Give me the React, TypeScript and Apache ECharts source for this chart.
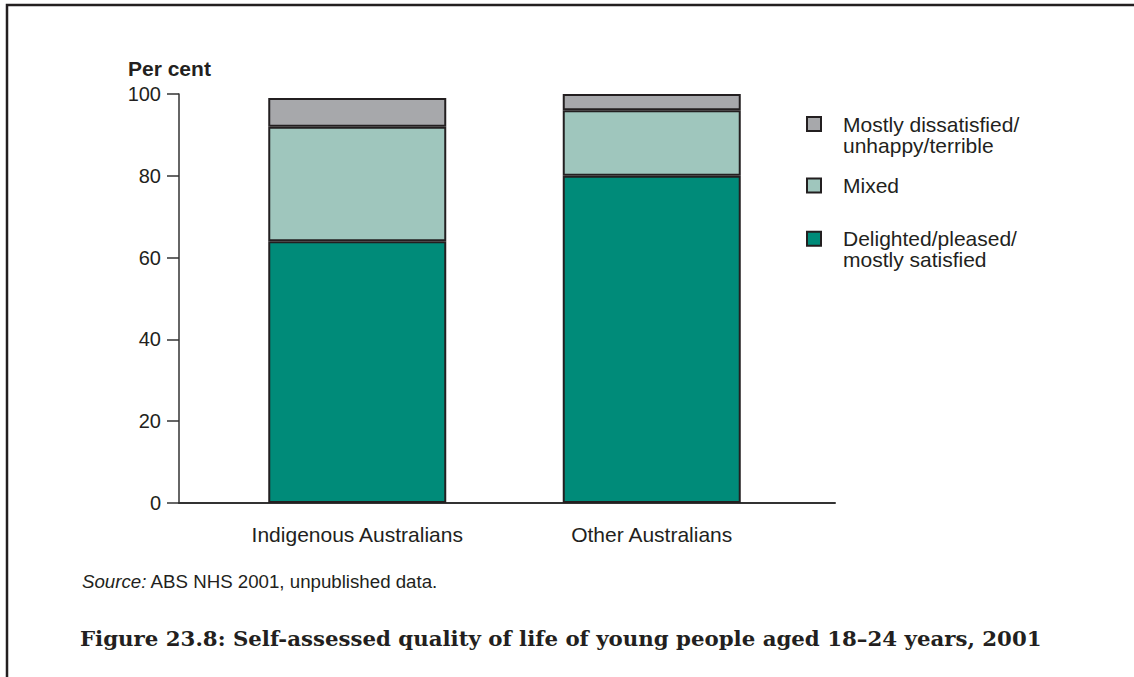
import React, { useEffect, useRef } from "react";
import * as echarts from "echarts";

const categories = ["Indigenous Australians", "Other Australians"];
const delighted = [64, 80];
const mixed = [28, 16];
const dissatisfied = [7, 4];
const yTicks = { min: 0, max: 100, interval: 20 };
const seriesNames = ["Delighted/pleased/\nmostly satisfied", "Mixed", "Mostly dissatisfied/\nunhappy/terrible"];
const seriesColors = ["#008b79", "#9fc6bd", "#a7a8ab"];

const INK = "#231f20";
const SANS = "'Liberation Sans', Arial, Helvetica, sans-serif";

export default function App() {
  const ref = useRef<HTMLDivElement>(null);
  useEffect(() => {
    const chart = echarts.init(ref.current!, null, { renderer: "svg" });
    const values = [delighted, mixed, dissatisfied];
    const legendBase = {
      orient: "vertical",
      left: 806,
      padding: 0,
      icon: "rect",
      itemWidth: 14,
      itemHeight: 14,
      itemStyle: { borderColor: INK, borderWidth: 2 },
      selectedMode: false,
      textStyle: {
        color: INK,
        fontFamily: SANS,
        fontSize: 21,
        lineHeight: 21,
        padding: [0, 0, 0, 17],
      },
    };
    // two-line entries: a leading blank line puts the first text line level with the icon
    const twoLineFormatter = (name: string) => "\n" + name;
    chart.setOption({
      animation: false,
      backgroundColor: "#ffffff",
      textStyle: { fontFamily: SANS, color: INK },
      grid: [
        { left: 179, right: 299, top: 94, bottom: 174, containLabel: false },
        { left: 210, right: 335, top: 94, bottom: 174, containLabel: false },
      ],
      xAxis: [
        {
          gridIndex: 0,
          type: "category",
          data: categories,
          axisLine: { show: true, lineStyle: { color: "#333", width: 2 } },
          axisTick: { show: false },
          axisLabel: { show: false },
          splitLine: { show: false },
        },
        {
          gridIndex: 1,
          type: "category",
          data: categories,
          axisLine: { show: false },
          axisTick: { show: false },
          axisLabel: { color: INK, fontSize: 21, fontFamily: SANS, margin: 21 },
          splitLine: { show: false },
        },
      ],
      yAxis: [
        {
          gridIndex: 0,
          type: "value",
          min: yTicks.min,
          max: yTicks.max,
          interval: yTicks.interval,
          axisLine: { show: true, lineStyle: { color: "#333", width: 1.5 } },
          axisTick: { show: true, length: 12, lineStyle: { color: "#333", width: 1.5 } },
          axisLabel: { color: INK, fontSize: 20, fontFamily: SANS, margin: 18 },
          splitLine: { show: false },
        },
        {
          gridIndex: 1,
          type: "value",
          min: yTicks.min,
          max: yTicks.max,
          show: false,
          splitLine: { show: false },
        },
      ],
      legend: [
        { ...legendBase, top: 92.5, data: [seriesNames[2]], formatter: twoLineFormatter },
        { ...legendBase, top: 175, data: [seriesNames[1]] },
        { ...legendBase, top: 207.2, data: [seriesNames[0]], formatter: twoLineFormatter },
      ],
      series: seriesNames.map((name, i) => ({
        name,
        type: "bar",
        stack: "total",
        xAxisIndex: 1,
        yAxisIndex: 1,
        barWidth: 178,
        data: values[i],
        itemStyle: { color: seriesColors[i], borderColor: INK, borderWidth: 2 },
      })),
      graphic: [
        {
          type: "polyline",
          shape: { points: [[7, 677], [7, 5], [1134, 5]] },
          style: { stroke: INK, lineWidth: 2.5, fill: "none" },
        },
        {
          type: "text",
          x: 128,
          y: 68.5,
          style: {
            text: "Per cent",
            fill: INK,
            font: `bold 21px ${SANS}`,
            verticalAlign: "middle",
          },
        },
        {
          type: "text",
          x: 82,
          y: 581,
          style: {
            text: "{i|Source:} ABS NHS 2001, unpublished data.",
            fill: INK,
            font: `18.7px ${SANS}`,
            verticalAlign: "middle",
            rich: { i: { fontStyle: "italic", fontSize: 18.7, fontFamily: SANS, fill: INK } },
          },
        },
        {
          type: "text",
          x: 80,
          y: 638,
          style: {
            text: "Figure 23.8: Self-assessed quality of life of young people aged 18–24 years, 2001",
            fill: INK,
            font: `bold 21.3px 'DejaVu Serif', serif`,
            verticalAlign: "middle",
          },
        },
      ],
    });
    return () => chart.dispose();
  }, []);
  return (
    <div
      ref={ref}
      style={{ position: "fixed", left: 0, top: 0, width: 1134, height: 677, background: "#fff" }}
    />
  );
}
